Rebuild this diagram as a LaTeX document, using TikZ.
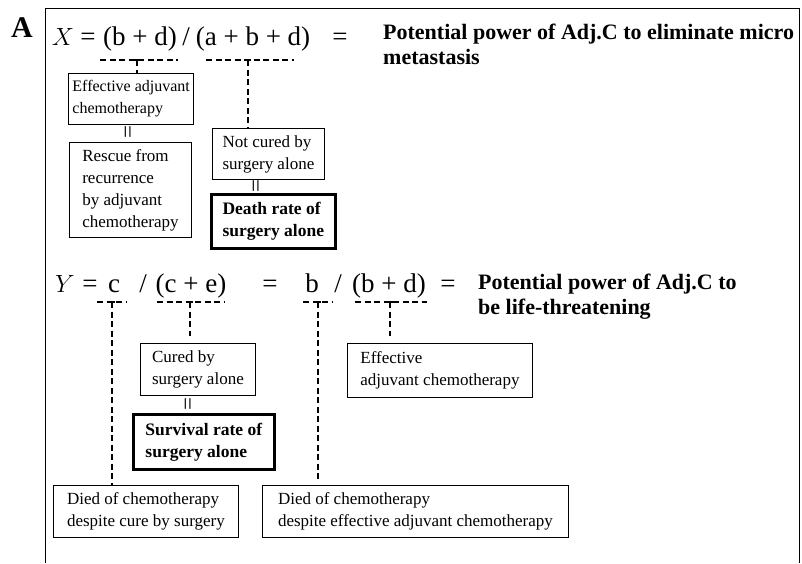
\documentclass[tikz,border=0pt]{standalone}
\usepackage{fontspec}
\setmainfont{Liberation Serif}
\tikzset{
  frm/.style={line width=0.9pt},
  txtbox/.style={draw, line width=0.9pt, anchor=north west, align=left, inner xsep=8pt, inner ysep=4pt, font=\fontsize{17}{22}\selectfont},
  keybox/.style={txtbox, line width=2.6pt, font=\fontsize{17.5}{22}\selectfont\bfseries},
  term/.style={anchor=base, inner sep=0pt, font=\fontsize{27}{27}\selectfont},
  title/.style={anchor=north west, align=left, inner sep=0pt, font=\fontsize{22}{25}\selectfont\bfseries},
  uline/.style={line width=1.6pt, dash pattern=on 6pt off 3.5pt},
  vline/.style={line width=1.9pt, dash pattern=on 6pt off 3.5pt},
  tee/.style={line width=2.2pt},
  eqsign/.style={rotate=90, inner sep=0pt, font=\fontsize{23}{23}\selectfont},
}
\begin{document}
\begin{tikzpicture}[x=1pt,y=-1pt]
  \useasboundingbox (0,0) rectangle (802,563);
  % panel frame and label
  \draw[frm] (45,563) -- (45,8) -- (799,8) -- (799,563);
  \node[anchor=base, inner sep=0pt, font=\fontsize{30}{30}\selectfont\bfseries] (panel) at (22,37) {A};

  % first equation: X
  \node[term] (xvar) at (63,45) {$X$};
  \node[term] (xeq) at (88,45) {=};
  \node[term] (xnum) at (140,45) {(b + d)};
  \node[term] (xsl) at (186,45) {/};
  \node[term] (xden) at (253,45) {(a + b + d)};
  \node[term] (xeqb) at (340,45) {=};
  \node[title] (xtitle) at (383,24) {Potential power of Adj.C to eliminate micro\\metastasis};

  \coordinate (tx1) at (137,60);
  \coordinate (tx2) at (248,60);
  \draw[uline] (100,60) -- (178,60);
  \draw[uline] (206,60) -- (294,60);

  \node[txtbox, inner xsep=4pt, font=\fontsize{16}{22}\selectfont, minimum width=122pt, minimum height=51pt] (effx) at (68,73) {Effective adjuvant\\chemotherapy};
  \node[eqsign] (eqx1) at (130,132) {=};
  \node[txtbox, minimum width=122pt, minimum height=95pt] (rescue) at (69,142) {Rescue from\\recurrence\\by adjuvant\\chemotherapy};
  \node[txtbox, minimum width=112pt, minimum height=51pt] (notcured) at (212,128) {Not cured by\\surgery alone};
  \node[eqsign] (eqx2) at (258,186) {=};
  \node[keybox, minimum width=124pt, minimum height=54pt] (death) at (210,193) {Death rate of\\surgery alone};

  \draw[tee] ([xshift=-3pt]tx1) -- ([xshift=3pt]tx1);
  \draw[tee] ([xshift=-3pt]tx2) -- ([xshift=3pt]tx2);
  \draw[vline] (tx1) -- (tx1 |- effx.north);
  \draw[vline] (tx2) -- (tx2 |- notcured.north);

  % second equation: Y
  \node[term] (yvar) at (65,292) {$Y$};
  \node[term] (yeq) at (90,292) {=};
  \node[term] (yc) at (114,292) {c};
  \node[term] (ysl) at (143,292) {/};
  \node[term] (yce) at (191,292) {(c + e)};
  \node[term] (yeqb) at (270,292) {=};
  \node[term] (yb) at (312,292) {b};
  \node[term] (ysl2) at (338,292) {/};
  \node[term] (ybd) at (389,292) {(b + d)};
  \node[term] (yeqc) at (448,292) {=};
  \node[title] (ytitle) at (478,274) {Potential power of Adj.C to\\be life-threatening};

  \coordinate (ty1) at (112,302);
  \coordinate (ty2) at (190,302);
  \coordinate (ty3) at (318,302);
  \coordinate (ty4) at (390,302);
  \draw[uline] (97,302) -- (127,302);
  \draw[uline] (157,302) -- (225,302);
  \draw[uline] (303,302) -- (332,302);
  \draw[uline] (355,302) -- (427,302);

  \node[txtbox, minimum width=115pt, minimum height=52pt] (cured) at (140,343) {Cured by\\surgery alone};
  \node[eqsign] (eqy1) at (190,404) {=};
  \node[keybox, minimum width=141pt, minimum height=55pt] (survival) at (132,413) {Survival rate of\\surgery alone};
  \node[txtbox, minimum width=185pt, minimum height=54pt] (effy) at (347,343) {Effective\\adjuvant chemotherapy};
  \node[txtbox, minimum width=185pt, minimum height=52pt] (died1) at (53,485) {Died of chemotherapy\\despite cure by surgery};
  \node[txtbox, minimum width=306pt, minimum height=52pt] (died2) at (262,485) {Died of chemotherapy\\despite effective adjuvant chemotherapy};

  \foreach \t in {ty1,ty2,ty3,ty4}
    \draw[tee] ([xshift=-3pt]\t) -- ([xshift=3pt]\t);
  \draw[vline] (ty1) -- (ty1 |- died1.north);
  \draw[vline] (ty2) -- ([yshift=7pt]ty2 |- cured.north);
  \draw[vline] (ty3) -- ([yshift=6pt]ty3 |- died2.north);
  \draw[vline] (ty4) -- ([yshift=7pt]ty4 |- effy.north);
\end{tikzpicture}
\end{document}
